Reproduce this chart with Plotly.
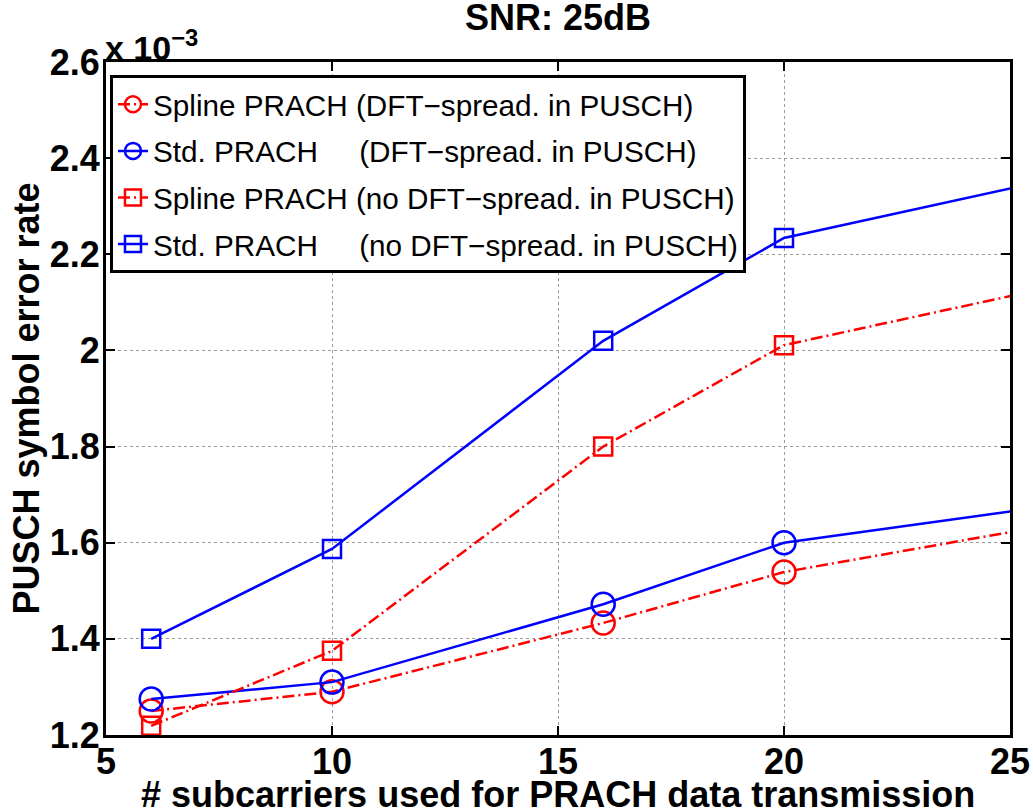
import plotly.graph_objects as go

# ── Data (y in units of 1e-3) ────────────────────────────────────────────────
subcarriers = [6, 10, 16, 20, 30]

spline_dft = [1.250, 1.290, 1.433, 1.539, 1.705]
std_dft = [1.275, 1.310, 1.472, 1.600, 1.730]
spline_nodft = [1.219, 1.375, 1.800, 2.011, 2.215]
std_nodft = [1.400, 1.587, 2.020, 2.234, 2.440]

series_names = [
    "Spline PRACH (DFT\u2212spread. in PUSCH)",
    "Std. PRACH\u00a0\u00a0\u00a0\u00a0 (DFT\u2212spread. in PUSCH)",
    "Spline PRACH (no DFT\u2212spread. in PUSCH)",
    "Std. PRACH\u00a0\u00a0\u00a0\u00a0 (no DFT\u2212spread. in PUSCH)",
]

x_ticks = [5, 10, 15, 20, 25]
y_ticks = [1.2, 1.4, 1.6, 1.8, 2.0, 2.2, 2.4, 2.6]

# ── Style ────────────────────────────────────────────────────────────────────
_RED = "#ff0000"
_BLUE = "#0000ff"
_FONT = "Liberation Sans, Arial, Helvetica, sans-serif"
_DASHDOT = "12px,4px,2px,4px"

styles = [
    dict(color=_RED, dash=_DASHDOT, symbol="circle-open", size=23),
    dict(color=_BLUE, dash="solid", symbol="circle-open", size=23),
    dict(color=_RED, dash=_DASHDOT, symbol="square-open", size=18),
    dict(color=_BLUE, dash="solid", symbol="square-open", size=18),
]

fig = go.Figure()

for i, (name, vals, st) in enumerate(
    zip(series_names, [spline_dft, std_dft, spline_nodft, std_nodft], styles)
):
    fig.add_trace(go.Scatter(
        x=subcarriers, y=vals,
        name=name,
        mode="lines+markers",
        legendgroup=f"g{i}",
        line=dict(color=st["color"], width=2.5, dash=st["dash"]),
        marker=dict(symbol=st["symbol"], size=st["size"],
                    color=st["color"], line=dict(color=st["color"], width=2.5)),
    ))

axis_style = dict(
    showline=True,
    linecolor="black",
    linewidth=3,
    mirror="ticks",
    ticks="inside",
    ticklen=9,
    tickwidth=2,
    tickcolor="black",
    showgrid=True,
    gridcolor="#9a9a9a",
    gridwidth=1,
    griddash="dot",
    zeroline=False,
    tickfont=dict(family=_FONT, size=36, color="black", weight="bold"),
)

bold36 = dict(family=_FONT, size=36, color="black", weight="bold")

fig.update_layout(
    width=1033,
    height=812,
    paper_bgcolor="white",
    plot_bgcolor="white",
    margin=dict(l=106, r=23, t=62, b=77, autoexpand=False),
    font=dict(family=_FONT, color="black"),
    title=dict(
        text="SNR: 25dB",
        x=0.5, xref="paper", xanchor="center",
        y=0.978, yanchor="middle",
        font=bold36,
    ),
    xaxis=dict(**axis_style, range=[5, 25], tickvals=x_ticks,
               ticklabelstandoff=-7),
    yaxis=dict(
        **axis_style,
        range=[1.2, 2.6],
        tickvals=y_ticks,
        ticklabelstandoff=-4,
        title=dict(text="PUSCH symbol error rate", font=bold36, standoff=0),
    ),
    legend=dict(
        x=0.0044, y=0.98,
        xanchor="left", yanchor="top",
        bgcolor="white",
        bordercolor="black",
        borderwidth=3,
        font=dict(family=_FONT, size=29.7, color="black"),
        tracegroupgap=5,
        itemwidth=30,
    ),
    showlegend=True,
)

# x axis title, sitting tight under the tick labels as in the original
fig.add_annotation(
    text="# subcarriers used for PRACH data transmission",
    xref="paper", yref="paper",
    x=0.5, y=-0.088,
    xanchor="center", yanchor="middle",
    showarrow=False,
    font=bold36,
)

# exponent label above the y axis
fig.add_annotation(
    text="x 10<sup>\u22123</sup>",
    xref="paper", yref="paper",
    x=-0.003, y=0.99,
    xanchor="left", yanchor="bottom",
    showarrow=False,
    font=dict(family=_FONT, size=34, color="black", weight="bold"),
)

# drop the default page margin so the figure sits at the window origin
fig.write_html(
    "out.html",
    config={"displayModeBar": False},
    post_script="document.body.style.margin='0';",
)
